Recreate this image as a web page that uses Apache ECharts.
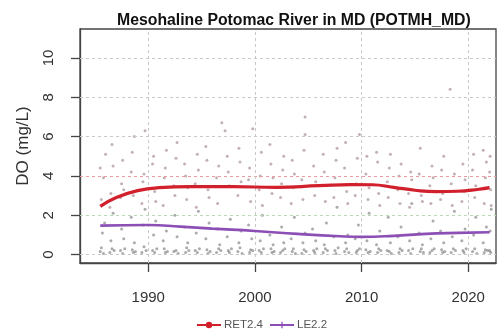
<!DOCTYPE html>
<html>
<head>
<meta charset="utf-8">
<script src="https://cdn.jsdelivr.net/npm/echarts@6/dist/echarts.min.js"></script>
<style>
  html, body { margin: 0; padding: 0; background: #fff; }
  #chart { width: 497px; height: 329px; }
</style>
</head>
<body>
<div id="chart"></div>
<script>
// Tick positions
const xTicks = [1990, 2000, 2010, 2020];
const yTicks = [0, 2, 4, 6, 8, 10];

// Smoothed trend lines (year, DO mg/L)
const trendRET = [[1985.5, 2.45], [1987, 2.9], [1989, 3.25], [1991, 3.4], [1994, 3.45], [1998, 3.45],
  [2002, 3.42], [2006, 3.5], [2009, 3.56], [2011, 3.55], [2013, 3.42], [2015, 3.27], [2017, 3.2],
  [2019, 3.22], [2021, 3.32], [2022, 3.4]];
const trendLE = [[1985.5, 1.47], [1990, 1.5], [1993, 1.42], [1996, 1.32], [2000, 1.2], [2004, 1.05],
  [2008, 0.93], [2010, 0.9], [2013, 0.95], [2016, 1.05], [2019, 1.1], [2022, 1.13]];

// Individual observations, upper stratum
const obsUpper = [
  [1985.6,2.8],[1985.8,3.9],[1985.5,4.4],[1986.0,5.1],
  [1986.5,3.1],[1986.7,4.5],[1986.4,2.4],[1986.6,5.6],
  [1987.5,3.6],[1987.6,4.8],[1987.4,2.9],[1987.7,3.3],
  [1988.4,4.2],[1988.6,3.0],[1988.5,5.2],[1988.7,6.0],
  [1989.5,3.7],[1989.6,4.1],[1989.4,2.6],[1989.7,6.3],
  [1990.4,4.6],[1990.6,3.2],[1990.5,5.0],[1990.7,2.7],
  [1991.5,3.9],[1991.6,4.4],[1991.4,2.5],[1991.7,5.3],
  [1992.4,3.5],[1992.6,4.9],[1992.5,3.0],[1992.7,5.7],
  [1993.5,4.0],[1993.6,2.8],[1993.4,4.6],[1993.7,3.4],
  [1994.4,3.6],[1994.6,5.1],[1994.5,2.4],[1994.7,4.3],
  [1995.5,4.8],[1995.6,3.3],[1995.4,5.5],[1995.7,2.9],
  [1996.4,3.9],[1996.6,4.5],[1996.5,2.6],[1996.9,6.7],
  [1997.5,4.2],[1997.6,3.5],[1997.4,5.0],[1997.2,6.3],
  [1998.4,3.0],[1998.6,4.7],[1998.5,5.4],[1998.7,3.7],
  [1999.5,4.4],[1999.6,2.7],[1999.4,3.8],[1999.8,6.4],
  [2000.4,3.3],[2000.6,5.2],[2000.5,4.0],[2000.7,2.5],
  [2001.5,4.6],[2001.6,3.1],[2001.4,5.6],[2001.7,3.9],
  [2002.4,2.9],[2002.6,4.3],[2002.5,3.6],[2002.7,5.0],
  [2003.5,4.8],[2003.6,3.4],[2003.4,2.6],[2003.7,4.1],
  [2004.4,3.8],[2004.6,5.3],[2004.5,2.8],[2004.7,6.1],
  [2005.5,4.5],[2005.6,3.0],[2004.7,7.0],[2005.7,3.7],
  [2006.4,5.1],[2006.6,2.7],[2006.5,4.2],[2006.7,3.5],
  [2007.5,3.9],[2007.6,4.8],[2007.4,2.9],[2007.7,5.4],
  [2008.4,4.4],[2008.6,3.2],[2008.5,5.7],[2008.7,2.6],
  [2009.5,3.6],[2009.6,4.9],[2009.4,3.0],[2009.8,6.1],
  [2010.4,4.1],[2010.6,2.8],[2010.5,5.0],[2010.7,3.4],
  [2011.5,4.7],[2011.6,3.1],[2011.4,5.2],[2011.7,2.5],
  [2012.4,3.7],[2012.6,4.4],[2012.5,2.9],[2012.7,5.1],
  [2013.5,4.0],[2013.6,2.6],[2013.4,3.3],[2013.7,4.6],
  [2014.4,3.1],[2014.6,4.2],[2014.5,2.4],[2014.7,3.8],
  [2015.5,5.4],[2015.6,3.0],[2015.4,4.1],[2015.7,2.7],
  [2016.4,3.5],[2016.6,4.5],[2016.5,2.6],[2016.7,3.9],
  [2017.5,4.3],[2017.6,3.1],[2017.4,2.8],[2017.7,5.0],
  [2018.4,3.6],[2018.3,8.4],[2018.5,2.5],[2018.7,4.1],
  [2019.5,4.6],[2019.6,3.2],[2019.4,2.7],[2019.7,3.8],
  [2020.4,4.3],[2020.6,2.9],[2020.5,5.1],[2020.7,3.5],
  [2021.4,5.3],[2021.6,3.9],[2021.5,2.6],[2021.7,4.7],
  [2022.0,4.2],[2022.1,3.3],[2022.05,5.0],[2022.15,2.5]
];

// Individual observations, lower stratum
const obsLower = [
  [1985.5,0.15],[1985.6,0.35],[1985.7,1.1],[1985.9,1.6],[1985.8,0.05],
  [1986.4,0.1],[1986.6,0.3],[1986.5,0.7],[1986.7,2.1],[1986.8,0.2],
  [1987.4,0.2],[1987.6,0.05],[1987.5,1.3],[1987.7,0.8],[1987.8,0.3],
  [1988.5,0.25],[1988.6,0.1],[1988.4,1.9],[1988.7,0.6],[1988.8,0.15],
  [1989.4,0.1],[1989.6,0.4],[1989.5,1.5],[1989.7,2.3],[1989.8,0.2],
  [1990.4,0.2],[1990.6,0.1],[1990.5,1.0],[1990.7,1.7],[1990.8,0.3],
  [1991.5,0.3],[1991.6,0.1],[1991.4,0.7],[1991.7,1.2],[1991.8,0.15],
  [1992.4,0.15],[1992.6,0.2],[1992.5,2.0],[1992.7,0.9],[1992.8,0.05],
  [1993.5,0.1],[1993.6,0.35],[1993.4,1.4],[1993.7,0.6],[1993.8,0.2],
  [1994.4,0.2],[1994.6,0.1],[1994.5,1.1],[1994.7,2.2],[1994.8,0.3],
  [1995.5,0.25],[1995.6,0.05],[1995.4,0.8],[1995.7,1.6],[1995.8,0.15],
  [1996.4,0.1],[1996.6,0.3],[1996.5,1.3],[1996.7,0.5],[1996.8,0.2],
  [1997.5,0.2],[1997.6,0.1],[1997.4,0.9],[1997.7,1.8],[1997.8,0.3],
  [1998.4,0.15],[1998.6,0.35],[1998.5,0.6],[1998.7,1.2],[1998.8,0.05],
  [1999.5,0.1],[1999.6,0.25],[1999.4,1.5],[1999.7,0.8],[1999.8,0.2],
  [2000.4,0.2],[2000.6,0.1],[2000.5,0.7],[2000.7,2.0],[2000.8,0.3],
  [2001.5,0.3],[2001.6,0.1],[2001.4,1.0],[2001.7,0.5],[2001.8,0.15],
  [2002.4,0.1],[2002.6,0.2],[2002.5,1.4],[2002.7,0.6],[2002.8,0.3],
  [2003.5,0.15],[2003.6,0.3],[2003.4,0.8],[2003.7,1.9],[2003.8,0.05],
  [2004.4,0.05],[2004.6,0.25],[2004.5,0.6],[2004.7,1.1],[2004.8,0.15],
  [2005.5,0.2],[2005.6,0.1],[2005.4,1.3],[2005.7,0.7],[2005.8,0.3],
  [2006.4,0.1],[2006.6,0.3],[2006.5,0.5],[2006.7,1.6],[2006.8,0.2],
  [2007.5,0.2],[2007.6,0.05],[2007.4,0.9],[2007.7,2.4],[2007.8,0.35],
  [2008.4,0.15],[2008.6,0.3],[2008.5,0.6],[2008.7,1.0],[2008.8,0.1],
  [2009.5,0.1],[2009.6,0.2],[2009.4,0.8],[2009.7,1.5],[2009.8,0.3],
  [2010.4,0.25],[2010.6,0.1],[2010.5,0.7],[2010.7,2.1],[2010.8,0.15],
  [2011.5,0.1],[2011.6,0.3],[2011.4,0.5],[2011.7,1.2],[2011.8,0.2],
  [2012.4,0.2],[2012.6,0.15],[2012.5,1.9],[2012.7,0.6],[2012.8,0.05],
  [2013.5,0.1],[2013.6,0.3],[2013.4,0.9],[2013.7,1.4],[2013.8,0.2],
  [2014.4,0.2],[2014.6,0.05],[2014.5,0.7],[2014.7,2.6],[2014.8,0.3],
  [2015.5,0.15],[2015.6,0.3],[2015.4,1.1],[2015.7,0.5],[2015.8,0.1],
  [2016.4,0.1],[2016.6,0.2],[2016.5,0.8],[2016.7,1.7],[2016.8,0.3],
  [2017.5,0.25],[2017.6,0.1],[2017.4,1.2],[2017.7,0.6],[2017.8,0.15],
  [2018.4,0.1],[2018.6,0.3],[2018.5,0.9],[2018.7,2.2],[2018.8,0.2],
  [2019.5,0.2],[2019.6,0.1],[2019.4,0.7],[2019.7,1.3],[2019.8,0.3],
  [2020.4,0.15],[2020.6,0.3],[2020.5,1.0],[2020.7,1.9],[2020.8,0.05],
  [2021.5,0.1],[2021.6,0.25],[2021.4,0.6],[2021.7,1.4],[2021.8,0.2],
  [2022.0,0.2],[2022.1,0.1],[2022.05,1.2],[2022.15,2.3]
];

const FONT = 'Liberation Sans, Arial, sans-serif';
const chart = echarts.init(document.getElementById('chart'), null, { renderer: 'canvas' });

const dotted = (color) => ({ color: color, type: [3, 3], width: 1 });
const gridLines = {
  silent: true,
  symbol: 'none',
  label: { show: false },
  animation: false,
  data: [
    { yAxis: 0, lineStyle: dotted('#c8c8c8') },
    { yAxis: 2, lineStyle: dotted('#b9d9b4') },
    { yAxis: 4, lineStyle: dotted('#ef9aa3') },
    { yAxis: 6, lineStyle: dotted('#c8c8c8') },
    { yAxis: 8, lineStyle: dotted('#c8c8c8') },
    { yAxis: 10, lineStyle: dotted('#c8c8c8') },
    ...xTicks.map(v => ({ xAxis: v, lineStyle: dotted('#c8c8c8') }))
  ]
};

chart.setOption({
  animation: false,
  backgroundColor: '#fff',
  title: {
    text: 'Mesohaline Potomac River in MD (POTMH_MD)',
    left: 112,
    top: 8,
    textStyle: { fontFamily: FONT, fontWeight: 'bold', fontSize: 15.8, color: '#111' }
  },
  legend: {
    left: 191,
    top: 314,
    itemWidth: 24,
    itemHeight: 8,
    itemGap: 6,
    textStyle: { fontFamily: FONT, fontSize: 11.5, color: '#555', padding: [0, 0, 0, -2] },
    data: ['RET2.4', 'LE2.2']
  },
  grid: {
    left: 80, right: 1, top: 29, bottom: 66,
    show: true, borderColor: '#444', borderWidth: 1.3, backgroundColor: 'transparent'
  },
  xAxis: {
    type: 'value',
    min: 1983.6,
    max: 2022.6,
    axisLine: { show: true, onZero: false, lineStyle: { color: '#444', width: 1.3 } },
    axisTick: { show: true, customValues: xTicks, length: 9, lineStyle: { color: '#444', width: 1.3 } },
    axisLabel: {
      customValues: xTicks, fontFamily: FONT, fontSize: 15, color: '#333', margin: 27,
      formatter: (v) => String(v)
    },
    splitLine: { show: false }
  },
  yAxis: {
    type: 'value',
    min: -0.43,
    max: 11.47,
    name: 'DO (mg/L)',
    nameLocation: 'middle',
    nameGap: 48,
    nameTextStyle: { fontFamily: FONT, fontSize: 17, color: '#333' },
    axisLine: { show: true, onZero: false, lineStyle: { color: '#444', width: 1.3 } },
    axisTick: { show: true, customValues: yTicks, length: 9, lineStyle: { color: '#444', width: 1.3 } },
    axisLabel: { customValues: yTicks, rotate: 90, fontFamily: FONT, fontSize: 15, color: '#333', margin: 24 },
    splitLine: { show: false }
  },
  series: [
    {
      name: 'grid',
      type: 'line',
      data: [],
      markLine: gridLines,
      silent: true
    },
    {
      name: 'obsUpper',
      type: 'scatter',
      data: obsUpper,
      symbolSize: 3,
      itemStyle: { color: 'rgba(130,90,100,0.6)' },
      silent: true,
      z: 2
    },
    {
      name: 'obsLower',
      type: 'scatter',
      data: obsLower,
      symbolSize: 3,
      itemStyle: { color: 'rgba(80,80,85,0.6)' },
      silent: true,
      z: 2
    },
    {
      name: 'RET2.4',
      type: 'line',
      data: trendRET,
      smooth: 0.5,
      showSymbol: false,
      symbol: 'circle',
      symbolSize: 4,
      lineStyle: { color: '#d11f2c', width: 3.2 },
      itemStyle: { color: '#d11f2c' },
      z: 5
    },
    {
      name: 'LE2.2',
      type: 'line',
      data: trendLE,
      smooth: 0.5,
      showSymbol: false,
      symbol: 'path://M4,0H6V4H10V6H6V10H4V6H0V4H4Z',
      symbolSize: 7,
      lineStyle: { color: '#8c4fb5', width: 2.6 },
      itemStyle: { color: '#8c4fb5' },
      z: 5
    }
  ]
});
</script>
</body>
</html>
